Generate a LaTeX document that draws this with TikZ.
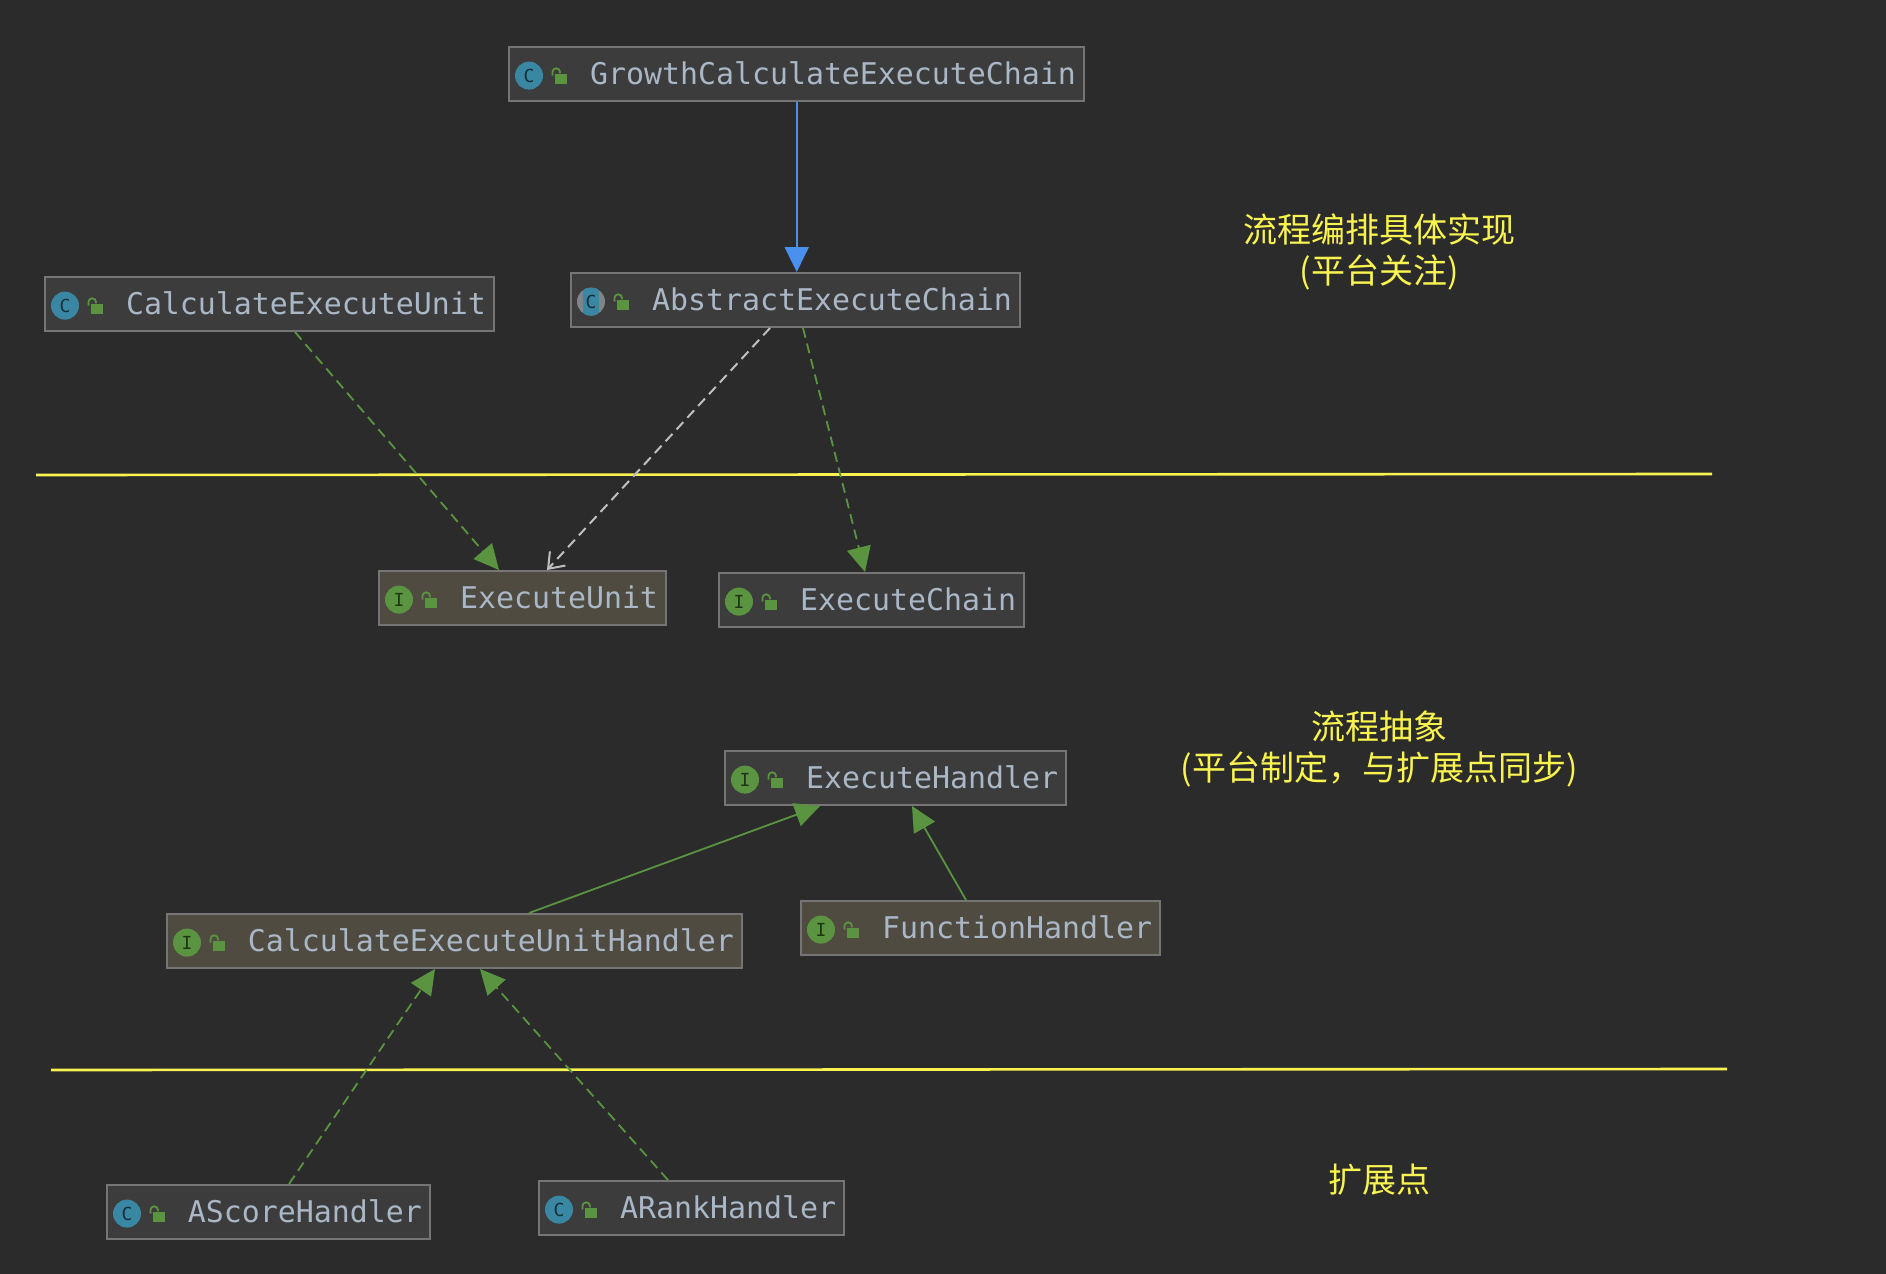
\documentclass[tikz,border=0pt]{standalone}
\usepackage{fontspec}
\setmonofont{DejaVu Sans Mono}
\newfontfamily\cjk{Noto Sans CJK SC}
\usetikzlibrary{arrows.meta}

\definecolor{bgcol}{HTML}{2B2B2B}
\definecolor{boxcol}{HTML}{3C3C3C}
\definecolor{warmcol}{HTML}{4F4B41}
\definecolor{edgecol}{HTML}{757575}
\definecolor{namecol}{HTML}{A9B7C6}
\definecolor{greencol}{HTML}{5A9440}
\definecolor{tealcol}{HTML}{3A87A3}
\definecolor{graycol}{HTML}{7F8487}
\definecolor{bluecol}{HTML}{4A90EE}
\definecolor{notecol}{HTML}{F8F34E}

\tikzset{
  classbox/.style={draw=edgecol,line width=1pt,fill=boxcol,anchor=north west,minimum height=27pt,
    inner xsep=4.2pt,inner ysep=0pt,text=namecol,font=\ttfamily\fontsize{14.95}{15}\selectfont,
    text height=12.3pt,text depth=1.7pt,execute at begin node={\hspace{36.3pt}}},
  ifacebox/.style={classbox,fill=warmcol},
  iconmark/.style={circle,inner sep=0pt,minimum size=14pt,font=\ttfamily\fontsize{9}{9}\selectfont},
  note/.style={text=notecol,align=center,font=\cjk\fontsize{17}{20.5}\selectfont},
  divider/.style={notecol,line width=1.3pt},
  inherit/.style={greencol,line width=0.9pt,-{Triangle[length=12.5pt,width=12pt]}},
  impl/.style={inherit,dash pattern=on 5pt off 3pt},
  assoc/.style={white!75!black,line width=1pt,dash pattern=on 5pt off 3pt,-{Straight Barb[length=7pt,width=10.5pt]}},
  owner/.style={bluecol,line width=1pt,-{Triangle[length=12.5pt,width=12pt]}}
}

\begin{document}
\begin{tikzpicture}[x=0.5pt,y=-0.5pt]
\fill[bgcol] (0,0) rectangle (1886,1274);
\useasboundingbox (0,0) rectangle (1886,1274);

% dividers
\draw[divider] (36,475) -- (1712,474);
\draw[divider] (51,1070) -- (1727,1069);

% class boxes
\node[classbox] (growth) at (508,46) {GrowthCalculateExecuteChain};
\node[classbox] (abstract) at (570,272) {AbstractExecuteChain};
\node[classbox] (calcunit) at (44,276) {CalculateExecuteUnit};
\node[ifacebox] (unit) at (378,570) {ExecuteUnit};
\node[classbox] (chain) at (718,572) {ExecuteChain};
\node[classbox] (handler) at (724,750) {ExecuteHandler};
\node[ifacebox] (function) at (800,900) {FunctionHandler};
\node[ifacebox] (unithandler) at (166,913) {CalculateExecuteUnitHandler};
\node[classbox] (ascore) at (106,1184) {AScoreHandler};
\node[classbox] (arank) at (538,1180) {ARankHandler};

% icons
\foreach \nm/\ltr/\col in {growth/C/tealcol,calcunit/C/tealcol,ascore/C/tealcol,arank/C/tealcol,
    abstract/C/graycol,unit/I/greencol,chain/I/greencol,handler/I/greencol,function/I/greencol,unithandler/I/greencol}{
  \node[iconmark,fill=\col,text=black!65!\col] (\nm-icon) at ([xshift=10.5pt,yshift=-0.8pt]\nm.west) {\ltr};
  \fill[greencol] ([xshift=23.5pt,yshift=-0.2pt]\nm.west) rectangle ([xshift=29.5pt,yshift=-5pt]\nm.west);
  \draw[greencol,line width=0.9pt] ([xshift=22.2pt,yshift=-0.8pt]\nm.west) -- ([xshift=22.2pt,yshift=0.95pt]\nm.west)
    arc (180:0:1.9pt) -- ++(0,-0.6pt);
}

% abstract class: band across the icon
\begin{scope}
\clip (abstract-icon.center) circle (7pt);
\fill[tealcol] ([xshift=-4pt,yshift=-7pt]abstract-icon.center) rectangle ([xshift=4pt,yshift=7pt]abstract-icon.center);
\end{scope}
\node[iconmark,text=black!65!tealcol] (abstract-letter) at (abstract-icon) {C};

% connectors
\draw[owner] (growth.south) -- (growth.south |- abstract.north);
\draw[impl] ([xshift=125.5pt]calcunit.south west) -- ([xshift=60.5pt]unit.north west);
\draw[assoc] ([xshift=100pt]abstract.south west) -- ([xshift=84.5pt]unit.north west);
\draw[impl] ([xshift=116.5pt]abstract.south west) -- ([xshift=73.5pt]chain.north west);
\draw[inherit] ([xshift=181.5pt]unithandler.north west) -- ([xshift=48pt]handler.south west);
\draw[inherit] ([xshift=83pt]function.north west) -- ([xshift=94pt]handler.south west);
\draw[impl] ([xshift=91.5pt]ascore.north west) -- ([xshift=134.5pt]unithandler.south west);
\draw[impl] ([xshift=65pt]arank.north west) -- ([xshift=157pt]unithandler.south west);

% notes
\node[note] (noteimpl) at (1379,252) {流程编排具体实现\\(平台关注)};
\node[note] (noteabs) at (1379,749) {流程抽象\\(平台制定，与扩展点同步)};
\node[note] (noteext) at (1379,1180) {扩展点};

\end{tikzpicture}
\end{document}
